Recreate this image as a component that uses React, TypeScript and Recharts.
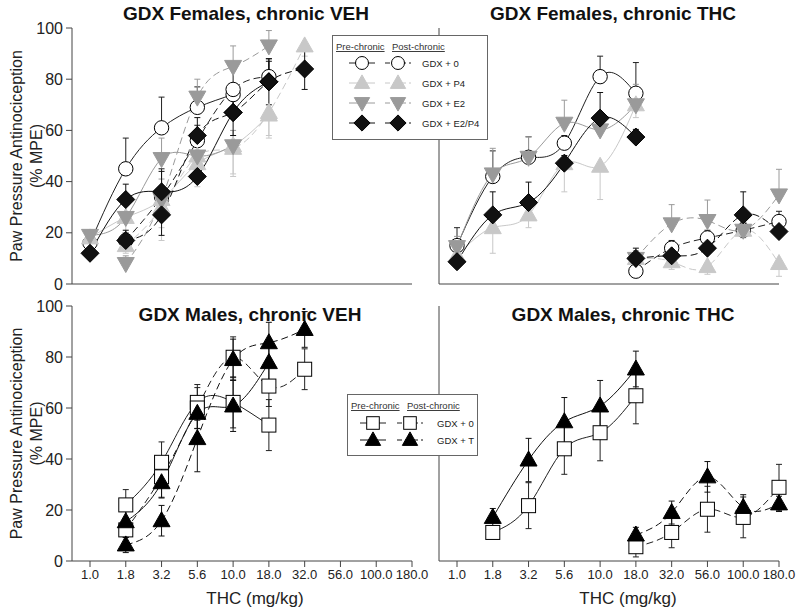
import React from 'react';
import { LineChart, Line, XAxis, YAxis, ErrorBar } from 'recharts';

const N = null;
const doses = ['1.0', '1.8', '3.2', '5.6', '10.0', '18.0', '32.0', '56.0', '100.0', '180.0'];
const yTicks = [0, 20, 40, 60, 80, 100];

// GDX Females, chronic VEH
const fVehZeroPre = [16, 45, 61, 69, 74, N, N, N, N, N];
const fVehZeroPreErr = [2, 12, 12, 8, 4, N, N, N, N, N];
const fVehZeroPost = [N, 17, 34, 56, 76, 81, N, N, N, N];
const fVehZeroPostErr = [N, 3, 11, 6, 8, 7, N, N, N, N];
const fVehP4Pre = [18, 26, 33, 47, 54, 66, N, N, N, N];
const fVehP4PreErr = [3, 6, 16, 9, 12, 8, N, N, N, N];
const fVehP4Post = [N, 15, 30, 50, 53, 67, 93, N, N, N];
const fVehP4PostErr = [N, 3, 8, 10, 10, 10, 4, N, N, N];
const fVehE2Pre = [19, 26, 49, 50, 54, N, N, N, N, N];
const fVehE2PreErr = [2, 5, 8, 6, 6, N, N, N, N, N];
const fVehE2Post = [N, 8, 33, 73, 85, 93, N, N, N, N];
const fVehE2PostErr = [N, 3, 8, 7, 8, 6, N, N, N, N];
const fVehE2P4Pre = [12, 33, 36, 42, 67, 79, N, N, N, N];
const fVehE2P4PreErr = [2, 6, 8, 6, 10, 8, N, N, N, N];
const fVehE2P4Post = [N, 17, 27, 58, 67, 79, 84, N, N, N];
const fVehE2P4PostErr = [N, 4, 8, 7, 9, 9, 8, N, N, N];

// GDX Females, chronic THC
const fThcZeroPre = [15, 42, 49.5, 55, 81, 74.5, N, N, N, N];
const fThcZeroPreErr = [7, 10, 8, 3, 8, 12, N, N, N, N];
const fThcZeroPost = [N, N, N, N, N, 5, 14, 18, 21, 24.4];
const fThcZeroPostErr = [N, N, N, N, N, 2, 3, 3, 3, 4];
const fThcP4Pre = [11, 22, 27, 47, 46, 70, N, N, N, N];
const fThcP4PreErr = [3, 10, 5, 11, 13, 5, N, N, N, N];
const fThcP4Post = [N, N, N, N, N, 10, 8.7, 6.8, 21, 8];
const fThcP4PostErr = [N, N, N, N, N, 2, 3, 3, 3, 5];
const fThcE2Pre = [14.6, 43, 49.5, 62.8, 60.2, 70, N, N, N, N];
const fThcE2PreErr = [4, 10, 8, 9, 6, 8, N, N, N, N];
const fThcE2Post = [N, N, N, N, N, 10, 23.5, 24.8, 21, 34.8];
const fThcE2PostErr = [N, N, N, N, N, 3, 7.5, 8, 3, 10];
const fThcE2P4Pre = [8.7, 27, 31.8, 47.2, 64.8, 57.4, N, N, N, N];
const fThcE2P4PreErr = [2, 9, 8, 3, 10, 3, N, N, N, N];
const fThcE2P4Post = [N, N, N, N, N, 10, 11, 14, 27, 20.5];
const fThcE2P4PostErr = [N, N, N, N, N, 4, 2, 2, 9, 4];

// GDX Males, chronic VEH
const mVehZeroPre = [N, 22, 38.7, 62.2, 62.2, 53.3, N, N, N, N];
const mVehZeroPreErr = [N, 6, 8, 7, 10, 10, N, N, N, N];
const mVehZeroPost = [N, 12.2, 33, 60, 79.9, 68.6, 75.2, N, N, N];
const mVehZeroPostErr = [N, 3, 8, 8, 8, 8, 8, N, N, N];
const mVehTPre = [N, 15.4, 30.7, 57.9, 60.8, 77.8, N, N, N, N];
const mVehTPreErr = [N, 5, 6, 6, 10, 8, N, N, N, N];
const mVehTPost = [N, 6.3, 15.8, 48, 79, 85.6, 90.8, N, N, N];
const mVehTPostErr = [N, 3, 6, 13, 8, 8, 7, N, N, N];

// GDX Males, chronic THC
const mThcZeroPre = [N, 11.2, 21.7, 44, 50.3, 64.8, N, N, N, N];
const mThcZeroPreErr = [N, 2, 9, 10, 11, 11, N, N, N, N];
const mThcZeroPost = [N, N, N, N, N, 5.6, 11.2, 20.3, 17.1, 28.9];
const mThcZeroPostErr = [N, N, N, N, N, 4, 6, 9, 8, 9];
const mThcTPre = [N, 17.1, 39.6, 54.6, 60.8, 75.3, N, N, N, N];
const mThcTPreErr = [N, 3.5, 8.5, 9.5, 10, 7, N, N, N, N];
const mThcTPost = [N, N, N, N, N, 10.2, 19, 33, 21, 22.4];
const mThcTPostErr = [N, N, N, N, N, 3, 4.5, 6, 5, 3];

const FONT = 'Arial, "Liberation Sans", sans-serif';
const AXIS = '#444';

type Shape = 'circle' | 'triUp' | 'triDown' | 'diamond' | 'square';
type Dir = 'up' | 'down' | 'both';

interface Style { shape: Shape; fill: string; stroke: string; line: string }

const zeroF: Style = { shape: 'circle', fill: '#fff', stroke: '#000', line: '#222' };
const p4F: Style = { shape: 'triUp', fill: '#c8c8c8', stroke: '#c8c8c8', line: '#c8c8c8' };
const e2F: Style = { shape: 'triDown', fill: '#9a9a9a', stroke: '#9a9a9a', line: '#9a9a9a' };
const e2p4F: Style = { shape: 'diamond', fill: '#111', stroke: '#000', line: '#111' };
const zeroM: Style = { shape: 'square', fill: '#fff', stroke: '#000', line: '#222' };
const tM: Style = { shape: 'triUp', fill: '#000', stroke: '#000', line: '#111' };

interface Series { vals: (number | null)[]; err: (number | null)[]; dir: Dir; style: Style; dashed: boolean }

const drawMarker = (shape: Shape, cx: number, cy: number, fill: string, stroke: string, s = 1) => {
  if (shape === 'circle') return <circle cx={cx} cy={cy} r={7.2 * s} fill={fill} stroke={stroke} strokeWidth={1} />;
  if (shape === 'square') return <rect x={cx - 7 * s} y={cy - 7 * s} width={14 * s} height={14 * s} fill={fill} stroke={stroke} strokeWidth={1} />;
  if (shape === 'triUp')
    return <polygon points={`${cx},${cy - 9 * s} ${cx - 8.5 * s},${cy + 6 * s} ${cx + 8.5 * s},${cy + 6 * s}`} fill={fill} stroke={stroke} />;
  if (shape === 'triDown')
    return <polygon points={`${cx},${cy + 9 * s} ${cx - 8.5 * s},${cy - 6 * s} ${cx + 8.5 * s},${cy - 6 * s}`} fill={fill} stroke={stroke} />;
  return <polygon points={`${cx},${cy - 9 * s} ${cx + 9 * s},${cy} ${cx},${cy + 9 * s} ${cx - 9 * s},${cy}`} fill={fill} stroke={stroke} />;
};

const dotFor = (st: Style) => (props: any) => {
  const { cx, cy, index, value } = props;
  if (cx == null || cy == null || value == null) return <g key={index} />;
  return <g key={index}>{drawMarker(st.shape, cx, cy, st.fill, st.stroke)}</g>;
};

const yLabel = (props: any) => {
  const vb = props.viewBox;
  const cy = vb.y + vb.height / 2;
  return (
    <g>
      <text transform={`translate(16,${cy}) rotate(-90)`} textAnchor="middle" dominantBaseline="central" fontSize={16} fill="#222">
        Paw Pressure Antinociception
      </text>
      <text transform={`translate(36,${cy}) rotate(-90)`} textAnchor="middle" dominantBaseline="central" fontSize={16} fill="#222">
        (% MPE)
      </text>
    </g>
  );
};

const xLabel = (dx: number) => (props: any) => {
  const vb = props.viewBox;
  return (
    <text x={vb.x + vb.width / 2 + dx} y={vb.y + 37} textAnchor="middle" dominantBaseline="central" fontSize={17} fill="#222">
      THC (mg/kg)
    </text>
  );
};

interface PanelProps { series: Series[]; left: number; top: number; isLeft: boolean; isBottom: boolean; titleDx: number }

const Panel = ({ series, left, top, isLeft, isBottom, titleDx }: PanelProps) => {
  const rows = doses.map((d, i) => {
    const row: any = { dose: d };
    series.forEach((s, k) => {
      const v = s.vals[i];
      const e = s.err[i];
      row['v' + k] = v;
      row['e' + k] = v == null || e == null ? null : s.dir === 'up' ? [0, e] : s.dir === 'down' ? [e, 0] : e;
    });
    return row;
  });
  const width = isLeft ? 432 : 370;
  const height = isBottom ? 333 : 310;
  return (
    <div style={{ position: 'absolute', left, top }}>
      <LineChart width={width} height={height} data={rows} margin={{ top: 28, right: 20, bottom: 0, left: 0 }} style={{ fontFamily: FONT }}>
        <XAxis
          dataKey="dose"
          interval={0}
          padding={{ left: 18, right: 0 }}
          height={isBottom ? 50 : 26}
          stroke={AXIS}
          tickSize={6}
          tickMargin={3}
          tick={isBottom ? { fontSize: 13, fill: '#222' } : false}
          label={isBottom ? xLabel(titleDx) : undefined}
        />
        <YAxis
          type="number"
          domain={[0, 100]}
          ticks={yTicks}
          width={isLeft ? 72 : 10}
          stroke={AXIS}
          tickSize={6}
          tickMargin={3}
          tick={isLeft ? { fontSize: 16, fill: '#222' } : false}
          label={isLeft ? yLabel : undefined}
        />
        {series.map((s, k) => (
          <Line
            key={k}
            dataKey={'v' + k}
            type="natural"
            stroke={s.style.line}
            strokeWidth={1}
            strokeDasharray={s.dashed ? '7 4' : undefined}
            dot={dotFor(s.style)}
            activeDot={false}
            isAnimationActive={false}
          >
            <ErrorBar dataKey={'e' + k} width={3} stroke={s.style.line} strokeWidth={1} direction="y" />
          </Line>
        ))}
      </LineChart>
    </div>
  );
};

const fVeh: Series[] = [
  { vals: fVehZeroPre, err: fVehZeroPreErr, dir: 'up', style: zeroF, dashed: false },
  { vals: fVehZeroPost, err: fVehZeroPostErr, dir: 'up', style: zeroF, dashed: true },
  { vals: fVehP4Pre, err: fVehP4PreErr, dir: 'down', style: p4F, dashed: false },
  { vals: fVehP4Post, err: fVehP4PostErr, dir: 'down', style: p4F, dashed: true },
  { vals: fVehE2Pre, err: fVehE2PreErr, dir: 'up', style: e2F, dashed: false },
  { vals: fVehE2Post, err: fVehE2PostErr, dir: 'up', style: e2F, dashed: true },
  { vals: fVehE2P4Pre, err: fVehE2P4PreErr, dir: 'up', style: e2p4F, dashed: false },
  { vals: fVehE2P4Post, err: fVehE2P4PostErr, dir: 'both', style: e2p4F, dashed: true },
];
const fThc: Series[] = [
  { vals: fThcZeroPre, err: fThcZeroPreErr, dir: 'up', style: zeroF, dashed: false },
  { vals: fThcZeroPost, err: fThcZeroPostErr, dir: 'up', style: zeroF, dashed: true },
  { vals: fThcP4Pre, err: fThcP4PreErr, dir: 'down', style: p4F, dashed: false },
  { vals: fThcP4Post, err: fThcP4PostErr, dir: 'down', style: p4F, dashed: true },
  { vals: fThcE2Pre, err: fThcE2PreErr, dir: 'up', style: e2F, dashed: false },
  { vals: fThcE2Post, err: fThcE2PostErr, dir: 'up', style: e2F, dashed: true },
  { vals: fThcE2P4Pre, err: fThcE2P4PreErr, dir: 'up', style: e2p4F, dashed: false },
  { vals: fThcE2P4Post, err: fThcE2P4PostErr, dir: 'up', style: e2p4F, dashed: true },
];
const mVeh: Series[] = [
  { vals: mVehZeroPre, err: mVehZeroPreErr, dir: 'both', style: zeroM, dashed: false },
  { vals: mVehZeroPost, err: mVehZeroPostErr, dir: 'both', style: zeroM, dashed: true },
  { vals: mVehTPre, err: mVehTPreErr, dir: 'both', style: tM, dashed: false },
  { vals: mVehTPost, err: mVehTPostErr, dir: 'both', style: tM, dashed: true },
];
const mThc: Series[] = [
  { vals: mThcZeroPre, err: mThcZeroPreErr, dir: 'both', style: zeroM, dashed: false },
  { vals: mThcZeroPost, err: mThcZeroPostErr, dir: 'both', style: zeroM, dashed: true },
  { vals: mThcTPre, err: mThcTPreErr, dir: 'both', style: tM, dashed: false },
  { vals: mThcTPost, err: mThcTPostErr, dir: 'both', style: tM, dashed: true },
];

const femaleLegend = [
  { label: 'GDX + 0', style: zeroF },
  { label: 'GDX + P4', style: p4F },
  { label: 'GDX + E2', style: e2F },
  { label: 'GDX + E2/P4', style: e2p4F },
];
const maleLegend = [
  { label: 'GDX + 0', style: zeroM },
  { label: 'GDX + T', style: tM },
];

interface LegendProps { items: { label: string; style: Style }[]; left: number; top: number; w: number; h: number; rowY: number[]; preX: number; postX: number; postTextX: number; labelX: number }

const LegendBox = ({ items, left, top, w, h, rowY, preX, postX, postTextX, labelX }: LegendProps) => (
  <svg width={w + 1} height={h + 1} style={{ position: 'absolute', left, top, fontFamily: FONT }}>
    <rect x={0.5} y={0.5} width={w} height={h} fill="#fff" stroke="#666" />
    <text x={4} y={15} fontSize={9.5} fill="#333" textDecoration="underline">Pre-chronic</text>
    <text x={postTextX} y={15} fontSize={9.5} fill="#333" textDecoration="underline">Post-chronic</text>
    {items.map((it, i) => (
      <g key={i}>
        <line x1={preX - 13} x2={preX + 13} y1={rowY[i]} y2={rowY[i]} stroke={it.style.line} />
        {drawMarker(it.style.shape, preX, rowY[i], it.style.fill, it.style.stroke, 0.9)}
        <line x1={postX - 13} x2={postX + 13} y1={rowY[i]} y2={rowY[i]} stroke={it.style.line} strokeDasharray="5 3" />
        {drawMarker(it.style.shape, postX, rowY[i], it.style.fill, it.style.stroke, 0.9)}
        <text x={labelX} y={rowY[i]} dominantBaseline="central" fontSize={9.5} fill="#222">{it.label}</text>
      </g>
    ))}
  </svg>
);

const titleStyle = (cx: number, top: number): React.CSSProperties => ({
  position: 'absolute',
  left: cx,
  top,
  transform: 'translateX(-50%)',
  whiteSpace: 'nowrap',
  fontFamily: FONT,
  fontWeight: 'bold',
  fontSize: 19,
  lineHeight: '22px',
  color: '#111',
});

const App = () => (
  <div style={{ position: 'absolute', left: 0, top: 0, width: 800, height: 614, background: '#fff', overflow: 'hidden' }}>
    <Panel series={fVeh} left={0} top={0} isLeft isBottom={false} titleDx={13} />
    <Panel series={fThc} left={429} top={0} isLeft={false} isBottom={false} titleDx={19} />
    <Panel series={mVeh} left={0} top={278} isLeft isBottom titleDx={13} />
    <Panel series={mThc} left={429} top={278} isLeft={false} isBottom titleDx={19} />
    <div style={titleStyle(246, 3)}>GDX Females, chronic VEH</div>
    <div style={titleStyle(613, 3)}>GDX Females, chronic THC</div>
    <div style={titleStyle(250, 304)}>GDX Males, chronic VEH</div>
    <div style={titleStyle(623, 304)}>GDX Males, chronic THC</div>
    <LegendBox items={femaleLegend} left={332} top={35} w={155} h={104} rowY={[28, 48, 68, 88]} preX={30} postX={66} postTextX={60} labelX={90} />
    <LegendBox items={maleLegend} left={347} top={394} w={130} h={61} rowY={[29, 46]} preX={26} postX={63} postTextX={60} labelX={90} />
  </div>
);

export default App;
